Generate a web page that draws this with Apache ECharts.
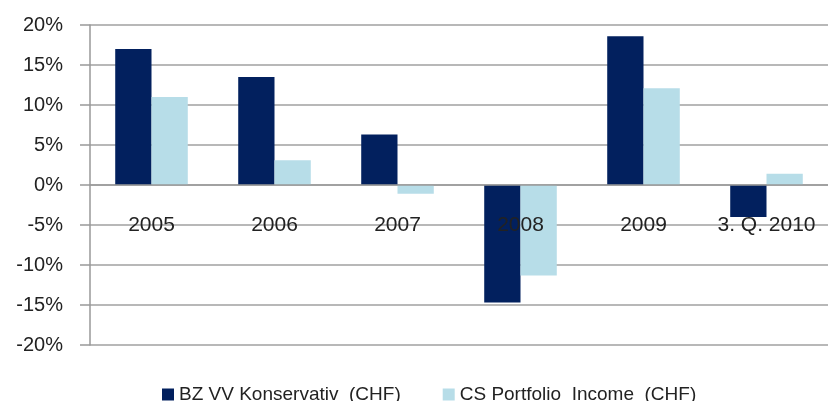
<!DOCTYPE html>
<html>
<head>
<meta charset="utf-8">
<script src="https://cdn.jsdelivr.net/npm/echarts@6/dist/echarts.min.js"></script>
<style>
  html, body { margin: 0; padding: 0; background: #fff; }
  #chart { width: 828px; height: 401px; }
</style>
</head>
<body>
<div id="chart"></div>
<script>
const categories = ['2005', '2006', '2007', '2008', '2009', '3. Q. 2010']
const bzValues = [17.0, 13.5, 6.3, -14.7, 18.6, -4.0]
const csValues = [11.0, 3.1, -1.1, -11.3, 12.1, 1.4]
const seriesNames = ['BZ VV Konservativ  (CHF)', 'CS Portfolio  Income  (CHF)']

const font = 'Liberation Sans, Arial, sans-serif'

const option = {
  animation: false,
  grid: { left: 90, right: 0, top: 25, bottom: 56 },
  textStyle: { fontFamily: font },
  legend: {
    left: 157,
    top: 380,
    itemWidth: 12,
    itemHeight: 12,
    itemGap: 42,
    icon: 'rect',
    textStyle: { fontSize: 19, color: '#222', fontFamily: font },
    data: seriesNames
  },
  xAxis: {
    type: 'category',
    data: categories,
    z: 5,
    // put the category axis at the 0% line (grid is 320px tall, 0% is 160px up)
    offset: -160,
    axisLine: { onZero: false, lineStyle: { color: '#999', width: 1.5 } },
    axisTick: { length: 7, lineStyle: { color: '#999', width: 1.5 } },
    axisLabel: { interval: 0, margin: 30, fontSize: 21, color: '#222', fontFamily: font }
  },
  yAxis: {
    type: 'value',
    min: -20,
    max: 20,
    interval: 5,
    axisLine: { show: true, lineStyle: { color: '#999', width: 1.5 } },
    axisTick: { show: true, length: 10, lineStyle: { color: '#999', width: 1.5 } },
    splitLine: { lineStyle: { color: '#a0a0a0', width: 1.5 } },
    axisLabel: { formatter: '{value}%', margin: 27, fontSize: 20, color: '#222', fontFamily: font }
  },
  series: [
    {
      name: seriesNames[0],
      type: 'bar',
      data: bzValues,
      barGap: '0%',
      barCategoryGap: '41%',
      itemStyle: { color: '#02205e' }
    },
    {
      name: seriesNames[1],
      type: 'bar',
      data: csValues,
      itemStyle: { color: '#b7dde8' }
    }
  ]
}

const myChart = echarts.init(document.getElementById('chart'))
myChart.setOption(option)
</script>
</body>
</html>
